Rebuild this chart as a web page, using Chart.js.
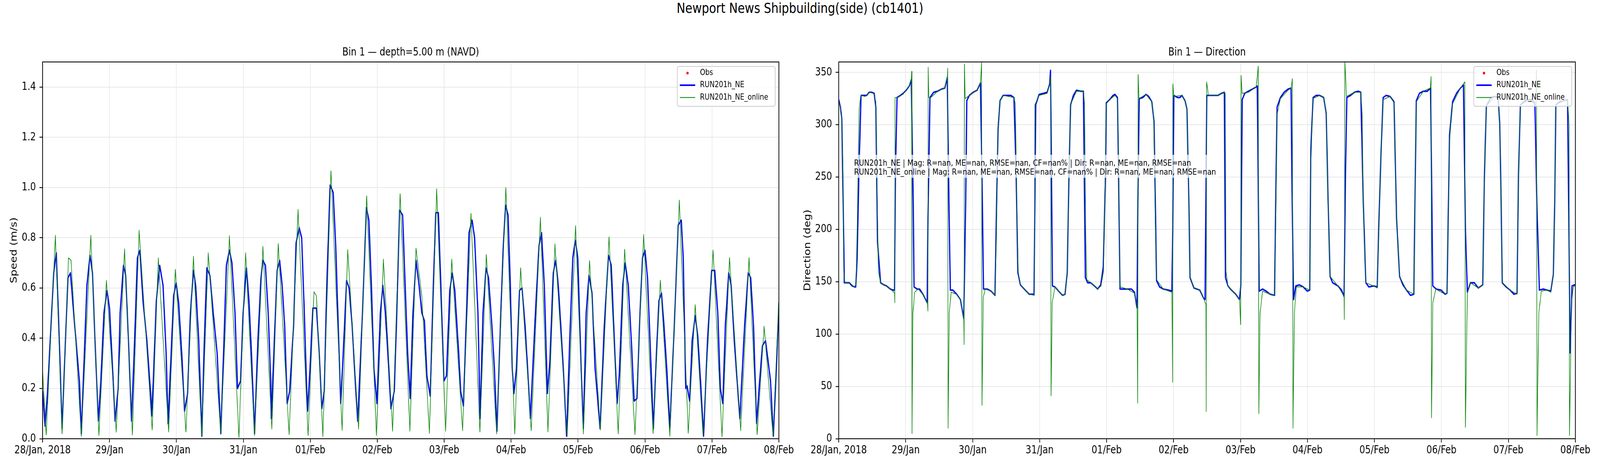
<!DOCTYPE html>
<html><head><meta charset="utf-8">
<script src="https://cdn.jsdelivr.net/npm/chart.js@4.4.1/dist/chart.umd.min.js"></script>
<style>
html,body{margin:0;padding:0;background:#fff;overflow:hidden;}
#wrap{position:absolute;left:0;top:0;width:5000px;height:1200px;transform-origin:0 0;background:#fff;}
#sup{position:absolute;left:0;top:2.5px;width:5000px;text-align:center;font-family:'DejaVu Sans';font-size:36px;line-height:36px;color:#000;white-space:nowrap;}
canvas{position:absolute;top:0;}
#c1{left:0;} #c2{left:2500px;}
</style></head>
<body>
<div id="wrap">
<div id="sup">Newport News Shipbuilding(side) (cb1401)</div>
<canvas id="c1" width="2500" height="1200" style="width:2500px;height:1200px"></canvas>
<canvas id="c2" width="2500" height="1200" style="width:2500px;height:1200px"></canvas>
</div>
<script>
// fit the 5000x1200 figure into whatever viewport the page gets
(function(){
  const sx = (window.innerWidth || 5000) / 5000, sy = (window.innerHeight || 1200) / 1200;
  document.getElementById('wrap').style.transform = 'scale(' + sx + ',' + sy + ')';
})();
// ---- tick labels / categories ----
const dayTicks = [0,24,48,72,96,120,144,168,192,216,240,264]; // hours since 28 Jan 2018 00:00
const dayLabels = ['28/Jan, 2018','29/Jan','30/Jan','31/Jan','01/Feb','02/Feb','03/Feb','04/Feb','05/Feb','06/Feb','07/Feb','08/Feb'];
const speedTicks = [0,0.2,0.4,0.6,0.8,1.0,1.2,1.4];
const dirTicks = [0,50,100,150,200,250,300,350];
const seriesNames = ['Obs','RUN201h_NE','RUN201h_NE_online'];
const statsLines = [
 'RUN201h_NE | Mag: R=nan, ME=nan, RMSE=nan, CF=nan% | Dir: R=nan, ME=nan, RMSE=nan',
 'RUN201h_NE_online | Mag: R=nan, ME=nan, RMSE=nan, CF=nan% | Dir: R=nan, ME=nan, RMSE=nan'
];
// ---- series: [hour, value] ----
const obsSpeed = [];
const obsDir = [];
const speedNE = [[0,0.19],[0.9,0.05],[1.8,0.19],[4.0,0.66],[4.9,0.74],[6.0,0.39],[7.0,0.04],[8.2,0.39],[9.1,0.64],[10.0,0.66],[11.3,0.48],[13.2,0.23],[13.9,0.02],[15.9,0.61],[17.0,0.73],[17.9,0.66],[18.8,0.39],[20.0,0.07],[20.9,0.23],[22.0,0.50],[23.1,0.59],[24.0,0.52],[25.1,0.28],[26.0,0.07],[27.1,0.20],[27.8,0.50],[29.0,0.69],[29.8,0.65],[30.8,0.39],[31.9,0.07],[33.0,0.39],[34.0,0.72],[34.9,0.75],[36.0,0.55],[37.4,0.39],[38.8,0.17],[39.1,0.09],[39.7,0.23],[40.8,0.55],[42.0,0.69],[43.2,0.61],[44.3,0.34],[45.0,0.06],[46.1,0.34],[47.0,0.57],[47.9,0.62],[48.8,0.54],[49.9,0.34],[50.9,0.11],[52.0,0.18],[53.0,0.50],[54.1,0.67],[54.9,0.61],[56.0,0.39],[57.1,0.01],[58.0,0.39],[58.9,0.68],[60.0,0.65],[61.2,0.50],[62.6,0.34],[63.9,0.02],[64.9,0.34],[65.9,0.69],[67.0,0.75],[67.9,0.70],[69.0,0.50],[69.9,0.20],[71.0,0.23],[71.9,0.50],[73.1,0.68],[74.0,0.55],[74.9,0.34],[76.0,0.02],[77.2,0.39],[78.3,0.64],[79.0,0.71],[79.9,0.69],[80.9,0.50],[81.8,0.23],[82.0,0.08],[83.1,0.39],[84.1,0.67],[85.0,0.71],[85.9,0.61],[86.8,0.45],[87.7,0.14],[88.6,0.19],[90.0,0.45],[90.9,0.78],[92.0,0.84],[92.9,0.80],[93.7,0.55],[94.6,0.23],[95.0,0.11],[95.9,0.28],[96.9,0.52],[98.2,0.52],[99.2,0.34],[100.1,0.12],[101.0,0.19],[101.9,0.61],[103.1,1.01],[104.2,0.98],[105.1,0.77],[106.0,0.45],[106.9,0.14],[107.8,0.34],[109.0,0.63],[109.9,0.60],[111.0,0.45],[112.1,0.23],[113.0,0.07],[114.7,0.50],[116.1,0.92],[117.0,0.87],[117.9,0.61],[118.8,0.28],[119.9,0.14],[121.1,0.50],[122.0,0.61],[122.9,0.50],[123.8,0.34],[124.9,0.12],[126.1,0.19],[127.0,0.50],[128.0,0.91],[129.1,0.89],[130.0,0.61],[130.9,0.34],[131.8,0.16],[132.8,0.50],[133.9,0.71],[135.0,0.61],[136.0,0.50],[136.9,0.47],[137.8,0.25],[139.0,0.17],[140.1,0.61],[141.0,0.90],[141.9,0.90],[142.8,0.61],[143.9,0.23],[144.8,0.25],[146.0,0.59],[146.9,0.66],[147.8,0.59],[149.2,0.34],[149.9,0.19],[150.9,0.13],[152.0,0.50],[152.9,0.82],[154.0,0.87],[154.9,0.80],[156.1,0.50],[156.9,0.08],[157.9,0.50],[159.0,0.68],[159.9,0.64],[161.1,0.45],[162.0,0.28],[162.9,0.03],[164.3,0.50],[165.2,0.77],[166.0,0.93],[166.9,0.89],[167.7,0.61],[168.4,0.28],[169.0,0.18],[169.9,0.28],[171.0,0.59],[171.9,0.60],[173.0,0.45],[173.9,0.28],[174.9,0.08],[176.7,0.50],[178.0,0.77],[178.9,0.82],[179.9,0.61],[181.0,0.18],[181.9,0.31],[183.1,0.66],[184.0,0.71],[184.9,0.61],[185.8,0.45],[186.7,0.28],[187.9,0.01],[189.0,0.39],[190.1,0.72],[191.0,0.79],[191.9,0.72],[193.1,0.28],[193.9,0.04],[194.9,0.50],[195.9,0.65],[197.0,0.58],[198.1,0.28],[199.9,0.04],[201.4,0.45],[202.9,0.73],[203.9,0.69],[205.0,0.39],[206.0,0.14],[206.8,0.26],[208.0,0.61],[208.9,0.70],[210.0,0.61],[211.1,0.39],[212.1,0.15],[213.1,0.16],[214.2,0.50],[215.1,0.72],[216.0,0.75],[216.9,0.64],[217.8,0.39],[219.0,0.04],[220.1,0.34],[221.0,0.55],[221.9,0.58],[222.8,0.45],[223.8,0.28],[224.9,0.04],[226.5,0.45],[227.9,0.85],[229.0,0.87],[229.7,0.72],[230.6,0.20],[231.1,0.21],[232.0,0.15],[232.9,0.39],[234.0,0.49],[234.9,0.41],[235.9,0.23],[237.0,0.01],[238.4,0.39],[239.9,0.67],[241.0,0.67],[242.1,0.50],[243.0,0.20],[243.9,0.14],[244.8,0.45],[246.0,0.66],[246.9,0.61],[248.0,0.39],[250.0,0.08],[251.7,0.45],[253.0,0.66],[253.9,0.64],[254.9,0.45],[256.0,0.06],[257.1,0.23],[258.1,0.37],[259.2,0.39],[259.9,0.33],[261.0,0.23],[262.0,0.01],[263.1,0.28],[264.0,0.54]];
const speedOnline = [[0,0.27],[1.3,0.015],[4.6,0.81],[7.0,0.02],[9.3,0.72],[10.2,0.71],[13.9,0.01],[17.3,0.81],[20.2,0.013],[22.9,0.63],[26.4,0.026],[29.4,0.756],[32.2,0.015],[34.6,0.83],[39.3,0.035],[41.5,0.72],[45.2,0.027],[47.6,0.674],[51.4,0.027],[54.1,0.726],[57.1,0.008],[59.4,0.74],[63.9,0.021],[67.0,0.808],[70.4,0.005],[72.8,0.74],[76.0,0.013],[79.0,0.766],[82.2,0.038],[84.5,0.777],[88.4,0.016],[91.6,0.913],[95.2,0.013],[97.3,0.585],[98.2,0.568],[100.5,0.008],[103.4,1.066],[107.4,0.033],[109.4,0.753],[113.3,0.038],[116.2,0.967],[119.7,0.013],[122.2,0.715],[125.5,0.03],[128.2,0.975],[131.7,0.03],[133.9,0.758],[136.0,0.565],[138.7,0.021],[141.3,0.995],[144.5,0.03],[146.7,0.715],[150.6,0.032],[153.6,0.897],[156.8,0.027],[159.1,0.734],[162.8,0.019],[166.1,1.0],[169.3,0.019],[171.4,0.68],[175.2,0.032],[178.5,0.882],[181.2,0.027],[183.7,0.776],[188.1,0.01],[191.1,0.848],[193.9,0.019],[196.1,0.709],[200.0,0.035],[203.1,0.803],[206.4,0.019],[208.7,0.754],[212.4,0.016],[215.5,0.813],[218.9,0.021],[221.5,0.631],[224.9,0.01],[228.3,0.95],[231.5,0.022],[234.0,0.534],[236.8,0.013],[240.4,0.751],[243.6,0.008],[246.3,0.721],[250.3,0.032],[253.3,0.721],[256.2,0.016],[258.7,0.448],[261.9,0.011],[264,0.554]];
const dirNE = [[0,324],[0.6,317],[1.1,306],[1.6,225],[2.0,149],[2.9,149],[3.8,149],[4.8,146],[5.7,145],[6.1,145],[6.6,172],[7.2,251],[8.0,328],[8.9,328],[10.0,328],[10.9,331],[11.8,331],[12.7,330],[13.3,317],[13.9,188],[15.0,149],[16.2,147],[17.1,146],[18.5,143],[19.4,142],[20.0,142],[20.3,251],[20.9,326],[22.1,328],[23.1,330],[24.2,333],[25.3,337],[26.0,343],[26.7,225],[27.0,145],[28.1,143],[29.0,143],[30.4,137],[31.7,130],[32.0,212],[32.7,326],[34.0,331],[35.4,332],[36.8,334],[38.0,335],[38.9,345],[39.5,225],[40.0,142],[40.9,142],[42.3,138],[43.6,133],[44.8,115],[45.5,225],[45.9,323],[46.8,328],[48.2,331],[49.6,333],[50.8,340],[51.4,238],[51.9,143],[53.2,143],[54.6,141],[56.0,137],[56.4,199],[57.1,296],[57.8,323],[58.9,328],[60.1,328],[61.7,328],[62.8,326],[63.6,251],[64.2,159],[65.1,147],[66.5,143],[68.3,138],[70.0,138],[70.6,319],[71.8,329],[73.4,330],[74.7,331],[75.6,339],[75.9,352],[76.6,146],[77.5,145],[78.8,141],[80.2,137],[81.1,138],[81.9,159],[82.5,251],[83.1,319],[84.1,328],[85.2,333],[86.6,332],[87.7,332],[88.0,251],[88.4,154],[89.2,149],[90.3,149],[91.6,146],[92.8,143],[93.9,147],[94.8,164],[95.6,251],[95.9,321],[97.1,324],[98.3,328],[99.0,329],[99.9,326],[100.3,251],[100.8,143],[102.2,143],[103.5,143],[104.9,143],[106.0,140],[106.9,125],[107.2,225],[107.7,325],[109.0,326],[110.1,329],[111.1,327],[112.2,322],[113.0,303],[113.9,151],[115.0,145],[116.3,143],[118.2,142],[119.4,141],[119.7,199],[120.1,328],[121.4,326],[122.3,326],[123.0,328],[124.1,323],[124.8,315],[125.5,225],[125.9,154],[127.3,144],[129.4,142],[130.8,134],[131.3,133],[131.9,328],[133.1,328],[134.5,328],[135.9,328],[137.2,330],[138.2,331],[138.6,154],[139.5,146],[140.4,143],[142.3,138],[143.6,133],[144.1,146],[144.6,324],[145.5,330],[146.8,332],[148.2,334],[149.6,336],[150.0,337],[150.7,141],[151.9,143],[153.2,141],[154.6,138],[156.2,137],[156.6,225],[157.1,317],[158.3,326],[159.6,331],[161.0,334],[162.1,335],[162.4,251],[163.0,133],[163.8,146],[165.1,147],[166.5,145],[167.9,141],[168.8,142],[169.2,277],[170.0,326],[171.1,328],[172.4,328],[173.8,326],[174.7,311],[175.4,225],[176.1,155],[177.0,149],[178.9,146],[180.2,142],[181.1,136],[181.6,251],[182.1,326],[183.4,328],[184.8,331],[186.2,332],[187.1,331],[188.0,225],[188.9,149],[190.0,145],[191.7,146],[193.0,145],[193.5,199],[194.4,277],[195.1,326],[196.2,328],[197.6,327],[199.0,322],[199.9,212],[201.0,155],[202.2,147],[203.5,142],[204.9,137],[206.1,138],[206.5,225],[207.0,323],[208.1,330],[209.5,332],[210.9,332],[212.1,335],[212.9,146],[214.1,143],[215.9,142],[217.3,138],[218.0,139],[218.9,290],[220.0,322],[221.4,330],[222.8,335],[223.9,338],[224.6,199],[225.3,140],[226.4,149],[227.8,149],[229.2,144],[230.8,147],[231.4,251],[232.1,318],[233.7,326],[235.1,327],[236.3,326],[236.9,301],[237.4,225],[237.8,149],[239.2,145],[240.6,142],[242.0,138],[243.1,139],[243.6,251],[244.3,319],[246.1,323],[247.5,324],[248.4,324],[249.5,320],[250.2,225],[251.1,142],[252.5,143],[253.8,142],[255.2,141],[256.1,157],[256.6,225],[257.0,319],[258.4,322],[259.8,323],[261.2,324],[261.6,225],[262.1,82],[262.8,146],[263.7,147],[264,147]];
const dirOnline = [[0,322],[1.0,312],[1.5,260],[1.8,160],[2.2,149],[4.0,149],[5.5,145],[6.2,147],[6.6,200],[7.3,315],[7.9,328],[9.5,327],[11.0,331],[12.5,330],[13.3,322],[13.7,250],[14.2,160],[15.0,149],[17.0,146],[19.4,141],[20.0,139],[20.1,130],[20.2,326],[21.0,326],[23.0,329],[25.3,337],[26.0,343],[26.15,351],[26.25,5],[26.6,120],[27.2,140],[28.5,143],[30.4,137],[31.8,130],[31.95,122],[32.05,355],[32.3,326],[33.0,326],[35.4,332],[37.9,335],[38.9,345],[39.05,354],[39.2,10],[39.6,120],[40.3,140],[42.2,138],[43.6,133],[44.8,115],[44.95,90],[45.05,358],[45.3,325],[46.8,328],[49.6,333],[50.8,340],[51.2,360],[51.35,32],[51.8,135],[52.5,143],[54.6,141],[56.0,137],[56.5,190],[57.1,300],[57.8,323],[59.0,328],[62.8,326],[63.3,320],[63.8,230],[64.3,160],[65.1,147],[68.3,138],[70.1,137],[70.3,319],[71.8,328],[74.7,330],[75.7,340],[75.95,346],[76.1,41],[76.5,130],[77.5,145],[80.2,137],[81.1,138],[81.9,160],[82.5,260],[83.2,320],[85.2,332],[87.7,332],[88.1,320],[88.5,200],[88.9,152],[90.3,149],[92.8,143],[94.0,146],[94.9,160],[95.4,240],[95.9,320],[97.1,324],[99.0,328],[99.9,325],[100.3,270],[100.8,145],[103.5,143],[106.0,139],[106.9,128],[107.15,34],[107.3,348],[107.6,325],[110.1,329],[112.2,322],[112.9,305],[113.5,200],[113.9,152],[116.3,143],[119.4,140],[119.65,54],[119.75,339],[120.1,327],[123.0,328],[124.1,323],[124.8,315],[125.4,240],[125.9,155],[127.3,144],[129.5,142],[130.8,134],[131.6,128],[131.7,26],[131.85,341],[132.5,328],[135.9,328],[138.2,331],[138.5,330],[138.8,160],[139.5,146],[142.3,138],[143.6,133],[144.05,109],[144.2,347],[144.6,330],[146.8,331],[149.6,336],[150.35,356],[150.55,24],[151.0,120],[151.9,141],[154.6,138],[156.2,137],[156.6,200],[157.1,310],[158.3,325],[161.0,333],[162.2,335],[162.55,344],[162.8,10],[163.3,120],[164.0,145],[166.5,145],[168.8,142],[169.2,260],[169.9,325],[172.4,328],[173.8,326],[174.7,312],[175.3,230],[176.1,155],[178.9,146],[181.1,136],[181.2,114],[181.4,360],[182.0,327],[184.8,331],[187.1,331],[187.6,310],[188.0,220],[188.9,149],[191.7,146],[193.0,144],[193.5,190],[194.4,280],[195.1,324],[197.6,327],[199.0,321],[199.8,220],[201.0,155],[203.5,142],[206.1,138],[206.5,220],[207.0,322],[209.5,332],[212.0,335],[212.3,346],[212.45,20],[212.9,130],[214.0,143],[217.3,138],[218.0,139],[218.9,285],[220.0,320],[222.8,335],[224.4,341],[224.6,11],[225.3,140],[226.4,149],[229.2,144],[230.8,147],[231.4,250],[232.1,318],[235.1,327],[236.3,325],[236.9,300],[237.4,220],[237.9,149],[240.6,142],[243.1,138],[243.6,250],[244.3,319],[247.5,324],[249.5,320],[249.9,330],[250.05,352],[250.25,3],[250.9,120],[251.8,141],[253.8,142],[255.2,140],[256.1,157],[256.6,225],[257.0,319],[259.8,323],[261.2,324],[261.75,300],[261.9,3],[262.6,130],[263.3,145],[264,147]];

const FONT = "'DejaVu Sans'";
const toXY = arr => arr.map(p => ({x:p[0], y:p[1]}));

const decor = {
  id: 'decor',
  afterDraw(chart, args, o) {
    const ctx = chart.ctx, a = chart.chartArea;
    ctx.save();
    if (o.stats) {
      ctx.font = `22px ${FONT}`;
      let w = 0; o.stats.forEach(s => { w = Math.max(w, ctx.measureText(s).width); });
      const x0 = a.left + 48;
      ctx.fillStyle = 'rgba(255,255,255,0.7)';
      ctx.fillRect(x0 - 7, 396, w + 14, 59);
      ctx.fillStyle = '#000'; ctx.textAlign = 'left'; ctx.textBaseline = 'alphabetic';
      o.stats.forEach((s, i) => ctx.fillText(s, x0, 424 + i * 23));
    }
    ctx.strokeStyle = '#000'; ctx.lineWidth = 2.2;
    ctx.strokeRect(a.left, a.top, a.right - a.left, a.bottom - a.top);
    ctx.fillStyle = '#000';
    ctx.font = `27.8px ${FONT}`; ctx.textAlign = 'center'; ctx.textBaseline = 'alphabetic';
    ctx.fillText(o.title, (a.left + a.right) / 2, 142);
    ctx.save();
    ctx.translate(o.ylabelX, (a.top + a.bottom) / 2);
    ctx.rotate(-Math.PI / 2);
    ctx.fillText(o.ylabel, 0, 0);
    ctx.restore();
    const bw = 306, bh = 102, bx = a.right - 11.5 - bw, by = 170;
    const r = 6;
    ctx.beginPath();
    ctx.moveTo(bx + r, by); ctx.lineTo(bx + bw - r, by); ctx.quadraticCurveTo(bx + bw, by, bx + bw, by + r);
    ctx.lineTo(bx + bw, by + bh - r); ctx.quadraticCurveTo(bx + bw, by + bh, bx + bw - r, by + bh);
    ctx.lineTo(bx + r, by + bh); ctx.quadraticCurveTo(bx, by + bh, bx, by + bh - r);
    ctx.lineTo(bx, by + r); ctx.quadraticCurveTo(bx, by, bx + r, by); ctx.closePath();
    ctx.fillStyle = 'rgba(255,255,255,0.8)'; ctx.fill();
    ctx.strokeStyle = '#cccccc'; ctx.lineWidth = 2.2; ctx.stroke();
    const ys = [187, 218, 249.5];
    const ds = chart.data.datasets;
    ds.forEach((d, i) => {
      const y = ys[i];
      if (i === 0) {
        ctx.beginPath(); ctx.arc(bx + 32, y, 3.5, 0, Math.PI * 2); ctx.fillStyle = d.pointBackgroundColor; ctx.fill();
      } else {
        ctx.beginPath(); ctx.moveTo(bx + 8, y); ctx.lineTo(bx + 56, y);
        ctx.strokeStyle = d.borderColor; ctx.lineWidth = d.borderWidth; ctx.lineCap = 'butt'; ctx.stroke();
      }
      ctx.fillStyle = '#000'; ctx.font = `21px ${FONT}`; ctx.textAlign = 'left'; ctx.textBaseline = 'middle';
      ctx.fillText(d.label, bx + 71, y);
    });
    ctx.restore();
  }
};

function makeChart(id, obs, ne, online, yTicks, yMax, fmt, yWidth, padRight, deco) {
  return new Chart(document.getElementById(id), {
    type: 'line',
    data: { datasets: [
      { label: seriesNames[0], data: toXY(obs), showLine: false, pointRadius: 3.5, pointBackgroundColor: '#ff0000', borderColor: '#ff0000', order: 2 },
      { label: seriesNames[1], data: toXY(ne), borderColor: '#0000ff', borderWidth: 3.8, pointRadius: 0, tension: 0, borderJoinStyle: 'round', order: 1 },
      { label: seriesNames[2], data: toXY(online), borderColor: '#008000', borderWidth: 1.8, pointRadius: 0, tension: 0, borderJoinStyle: 'round', order: 0 }
    ]},
    options: {
      responsive: false, animation: false, devicePixelRatio: 1, parsing: true,
      layout: { padding: { left: 0, right: padRight, top: 158.5, bottom: 0 } },
      plugins: { legend: { display: false }, tooltip: { enabled: false }, decor: deco },
      scales: {
        x: {
          type: 'linear', min: 0, max: 264,
          afterBuildTicks: s => { s.ticks = dayTicks.map(v => ({ value: v })); },
          afterFit: s => { s.height = 77.5; },
          ticks: { autoSkip: false, maxRotation: 0, padding: 4, color: '#000', font: { family: 'DejaVu Sans', size: 27.8 },
                   callback: v => dayLabels[dayTicks.indexOf(v)] },
          grid: { color: '#e8e8e8', lineWidth: 2, tickColor: '#000', tickWidth: 2.2, tickLength: 9.7 },
          border: { display: false }
        },
        y: {
          type: 'linear', min: 0, max: yMax,
          afterBuildTicks: s => { s.ticks = yTicks.map(v => ({ value: v })); },
          afterFit: s => { s.width = yWidth; },
          ticks: { padding: 11, color: '#000', font: { family: 'DejaVu Sans', size: 27.8 }, callback: fmt },
          grid: { color: '#e8e8e8', lineWidth: 2, tickColor: '#000', tickWidth: 2.2, tickLength: 9.7 },
          border: { display: false }
        }
      }
    },
    plugins: [decor]
  });
}

makeChart('c1', obsSpeed, speedNE, speedOnline, speedTicks, 1.5, v => v.toFixed(1), 133, 66,
  { title: 'Bin 1 \u2014 depth=5.00 m (NAVD)', ylabel: 'Speed (m/s)', ylabelX: 51.7 });
makeChart('c2', obsDir, dirNE, dirOnline, dirTicks, 360, v => String(Math.round(v)), 121, 77,
  { title: 'Bin 1 \u2014 Direction', ylabel: 'Direction (deg)', ylabelX: 31.5, stats: statsLines });
</script>
</body></html>
